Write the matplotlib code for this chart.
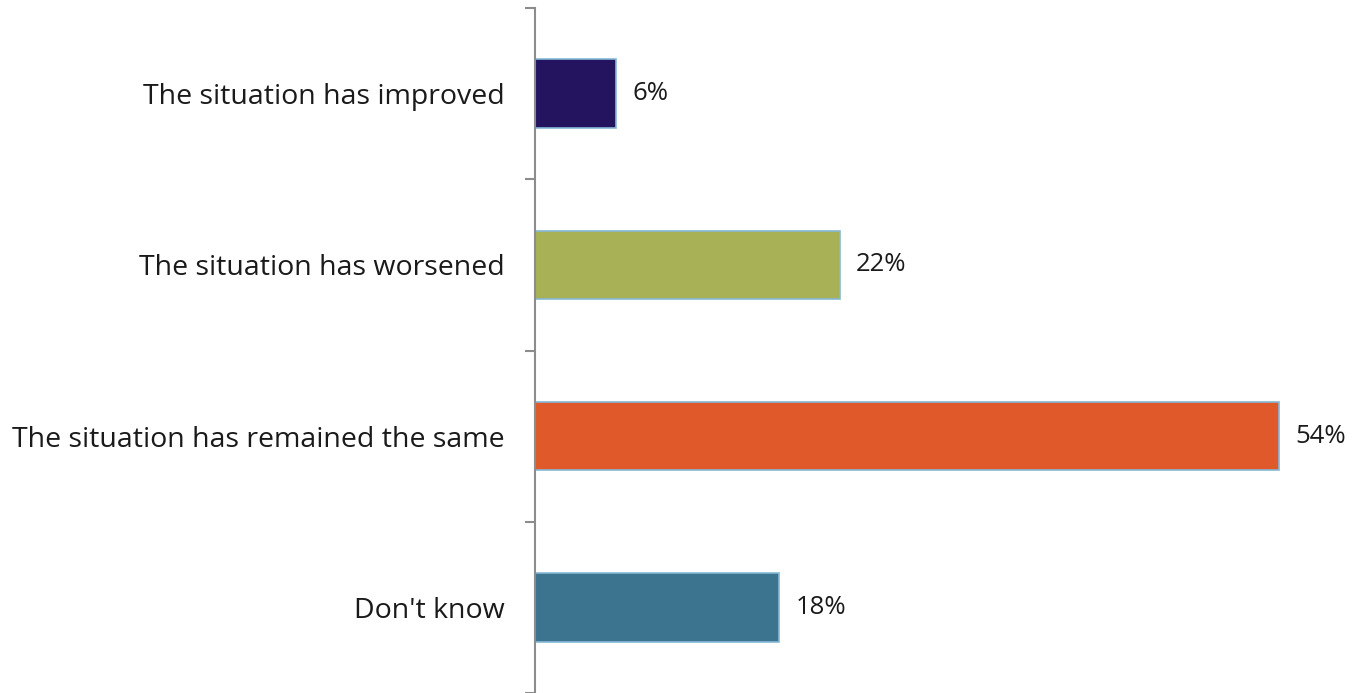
import matplotlib
matplotlib.use("Agg")
import matplotlib.pyplot as plt
import numpy as np

categories = ["The situation has improved", "The situation has worsened",
              "The situation has remained the same", "Don't know"]
values = [5.9, 22.1, 54.0, 17.7]
labels = ["6%", "22%", "54%", "18%"]
colors = ["#241460", "#A8B156", "#E0592A", "#3C738E"]

plt.rcParams["font.family"] = ["Open Sans", "DejaVu Sans"]

fig = plt.figure(figsize=(13.55, 6.93), dpi=100)
ax = fig.add_axes([535 / 1355, 0, 820 / 1355, 685 / 693])

y = np.arange(len(categories))
ax.barh(y, values, height=0.4, color=colors, edgecolor="#86B8D6", linewidth=1.2)
for yi, v, lab in zip(y, values, labels):
    ax.text(v + 1.2, yi, lab, va="center", ha="left", fontsize=18.5, color="#1a1a1a")

ax.set_ylim(len(categories) - 0.5, -0.5)
ax.set_xlim(0, 820 / 13.78)
ax.set_yticks(y)
ax.set_yticklabels(categories, fontsize=20.5, color="#1a1a1a")
ax.set_yticks(np.arange(-0.5, len(categories) + 0.5, 1), minor=True)
ax.tick_params(axis="y", which="major", length=0, pad=22)
ax.tick_params(axis="y", which="minor", length=7.5, width=1.5, color="#8c8c8c")
ax.set_xticks([])
for side in ["top", "right", "bottom"]:
    ax.spines[side].set_visible(False)
ax.spines["left"].set_color("#8c8c8c")
ax.spines["left"].set_linewidth(1.5)

fig.savefig("out.png", dpi=100)
